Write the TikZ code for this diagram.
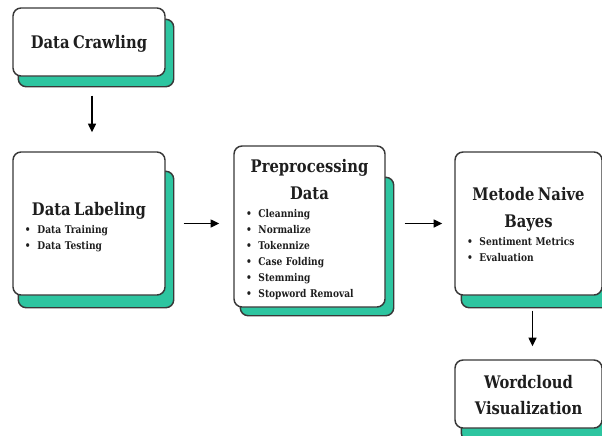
\documentclass[tikz,border=0pt]{standalone}
\usepackage{fontspec}
\setmainfont{DejaVu Serif}[FakeStretch=0.85]
\usetikzlibrary{arrows.meta,calc,backgrounds}
\definecolor{flowink}{HTML}{1E1E1E}
\definecolor{flowline}{HTML}{383838}
\definecolor{flowteal}{HTML}{2DC5A0}
\newcommand\stagetitle[1]{{\centering\fontsize{13}{20}\selectfont #1\par}}
\newcommand\stagehead[1]{\stagetitle{#1}\vspace{1.5pt}}
\newcommand\stageitem[1]{\par\textbullet\hspace{5pt}#1}
\tikzset{
  stagebox/.style={draw=flowline, fill=white, rounded corners=6pt,
    line width=1.1pt, text=flowink, align=left,
    font=\fontsize{8}{12}\selectfont\bfseries,
    inner xsep=9pt, inner ysep=0pt,
    execute at end node={\par\kern-5pt}},
  stagelift/.style={execute at end node={\kern3.5pt}},
  stageshadow/.style={draw=flowline, fill=flowteal, rounded corners=6pt,
    line width=1.1pt},
  flow/.style={-{Triangle[length=6.5pt,width=6pt]}, draw=black,
    line width=1pt}
}

\begin{document}
\begin{tikzpicture}[x=0.75pt,y=-0.75pt]
  \useasboundingbox (0,0) rectangle (602,435);

  \node[stagebox, text width=96pt, minimum height=51pt] (crawl) at (89,42)
    {\stagetitle{Data Crawling}};
  \node[stagebox, text width=96pt, minimum height=107.25pt] (label) at (89,223.5)
    {\stagehead{Data Labeling}
     \stageitem{Data Training}
     \stageitem{Data Testing}};
  \node[stagebox, text width=95.25pt, minimum height=120.75pt] (prep) at (309.5,226.5)
    {\stagehead{Preprocessing\\Data}
     \stageitem{Cleanning}
     \stageitem{Normalize}
     \stageitem{Tokennize}
     \stageitem{Case Folding}
     \stageitem{Stemming}
     \stageitem{Stopword Removal}};
  \node[stagebox, stagelift, text width=92.25pt, minimum height=107.25pt] (bayes) at (528.5,223.5)
    {\stagehead{Metode Naive\\Bayes}
     \stageitem{Sentiment Metrics}
     \stageitem{Evaluation}};
  \node[stagebox, stagelift, text width=92.25pt, minimum height=51pt] (cloud) at (528.5,394)
    {\stagetitle{Wordcloud\\Visualization}};

  % teal shadows behind the boxes
  \begin{scope}[on background layer]
    \draw[stageshadow] ($(crawl.south west)+(6,10)$) rectangle ($(crawl.north east)+(8,12)$);
    \draw[stageshadow] ($(label.south west)+(6,12)$) rectangle ($(label.north east)+(8,20)$);
    \draw[stageshadow] ($(prep.south west)+(7,8)$) rectangle ($(prep.north east)+(8,32)$);
    \draw[stageshadow] ($(bayes.south west)+(7,12)$) rectangle ($(bayes.north east)+(8,20)$);
    \draw[stageshadow] ($(cloud.south west)+(7,12)$) rectangle ($(cloud.north east)+(8,20)$);
  \end{scope}

  \draw[flow] ($(crawl.south)+(3,19)$) -- ($(label.north)+(3,-19)$);
  \draw[flow] ($(label.east)+(18,0)$) -- ($(label.east -| prep.west)+(-14,0)$);
  \draw[flow] ($(label.east -| prep.east)+(19,0)$) -- ($(label.east -| bayes.west)+(-12,0)$);
  \draw[flow] ($(bayes.south)+(4,15)$) -- ($(cloud.north)+(4,-13)$);
\end{tikzpicture}
\end{document}
